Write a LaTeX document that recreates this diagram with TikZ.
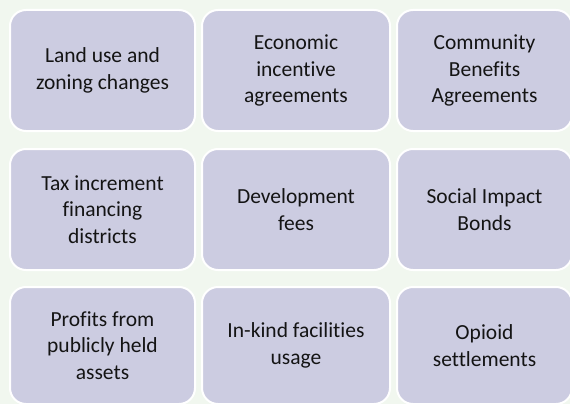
\documentclass[tikz,border=0pt]{standalone}
\usepackage{fontspec}
\setmainfont[Ligatures=NoCommon]{Carlito}
\usepackage{tikz}

\definecolor{bggreen}{HTML}{F1F7EF}
\definecolor{tilefill}{HTML}{CCCCE1}
\definecolor{tiletext}{HTML}{141414}

\begin{document}
\begin{tikzpicture}[
            x = 1pt, y = -1pt, % pixel units, y grows downward
            tile/.style = {draw = white, line width = 2pt, fill = tilefill,
                rounded corners = 16pt, align = center, text = tiletext,
                font = \fontsize{21.5}{26.5}\selectfont, inner sep = 0pt},
            semithick
        ]

	\fill[bggreen] (0,0) rectangle (570,404);
	\useasboundingbox (0,0) rectangle (570,404);

	% first row
	\node[tile, minimum width = 185pt, minimum height = 121pt] (landuse) at (102.5,70.5) {Land use and\\zoning changes};
	\node[tile, minimum width = 188pt, minimum height = 121pt] (econ) at (296,70.5) {Economic\\incentive\\agreements};
	\node[tile, minimum width = 175pt, minimum height = 121pt] (cba) at (484.5,70.5) {Community\\Benefits\\Agreements};

	% second row
	\node[tile, minimum width = 185pt, minimum height = 121pt] (tif) at (102.5,209.5) {Tax increment\\financing\\districts};
	\node[tile, minimum width = 188pt, minimum height = 121pt] (devfees) at (296,209.5) {Development\\fees};
	\node[tile, minimum width = 175pt, minimum height = 121pt] (sib) at (484.5,209.5) {Social Impact\\Bonds};

	% third row
	\node[tile, minimum width = 185pt, minimum height = 117pt] (profits) at (102.5,345.5) {Profits from\\publicly held\\assets};
	\node[tile, minimum width = 188pt, minimum height = 117pt] (inkind) at (296,345.5) {In-kind facilities\\usage};
	\node[tile, minimum width = 175pt, minimum height = 117pt] (opioid) at (484.5,345.5) {Opioid\\settlements};

\end{tikzpicture}
\end{document}
